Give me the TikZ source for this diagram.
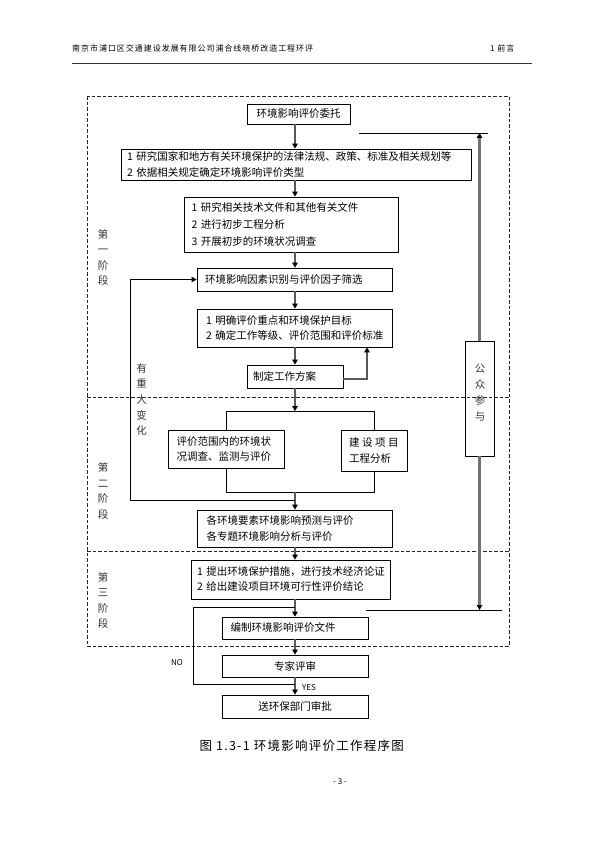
\documentclass[tikz,border=0pt]{standalone}
\usepackage{fontspec}
\setmainfont{Noto Sans CJK SC}
\newfontfamily\capfont[LetterSpace=10]{Noto Sans CJK SC}
\newfontfamily\hdfont[LetterSpace=12]{Noto Sans CJK SC}
\usetikzlibrary{arrows.meta}
\tikzset{
  frame/.style={dash pattern=on 3.5pt off 2pt, line width=0.7pt, draw=black!85},
  box/.style={draw, line width=0.8pt, inner ysep=0pt, align=left,
    font=\fontsize{10.5}{15.5}\selectfont},
  cbox/.style={box, align=center},
  vlab/.style={align=center, inner sep=0pt, text=black!80,
    font=\fontsize{10.5}{15.6}\selectfont},
  flow/.style={draw=black!65, line width=1.8pt,
    -{Triangle[length=5pt,width=5.5pt,color=black]}},
  pflow/.style={draw=black!55, line width=2.2pt,
    -{Triangle[length=5pt,width=5.5pt,color=black]}},
  thinline/.style={draw=black, line width=0.8pt},
  thinarrow/.style={thinline, -{Triangle[length=5pt,width=5.5pt]}},
  small/.style={font=\fontsize{8}{10}\selectfont, inner sep=0pt}
}
\begin{document}
\begin{tikzpicture}[x=1pt,y=-1pt]
\useasboundingbox (0,0) rectangle (595,841);

% header
\node[anchor=west, inner sep=0pt, font=\hdfont\fontsize{8}{10}\selectfont] (hd) at (72,48) {南京市浦口区交通建设发展有限公司浦合线晓桥改造工程环评};
\node[anchor=west, inner sep=0pt, font=\hdfont\fontsize{8}{10}\selectfont] (hdr) at (490,48) {1 前言};
\draw[line width=0.8pt, black!80] (72,63) -- (532,63);

% dashed frame
\draw[frame] (87,96) rectangle (509,646);
\draw[frame] (87,397) -- (509,397);
\draw[frame] (87,551) -- (509,551);

% axis
\coordinate (ax) at (295,0);

% boxes
\node[cbox, minimum width=103pt, minimum height=20pt, text width=95pt, inner xsep=4pt] (b1) at (298.5,114) {环境影响评价委托};
\node[box, minimum width=350pt, minimum height=31pt, text width=338pt, inner xsep=6pt, font=\fontsize{10.5}{16}\selectfont] (b2) at (296,164.5)
  {1~研究国家和地方有关环境保护的法律法规、政策、标准及相关规划等\\2~依据相关规定确定环境影响评价类型};
\node[box, minimum width=214pt, minimum height=55pt, text width=199pt, inner xsep=7.5pt, font=\fontsize{10.5}{16.7}\selectfont] (b3) at (291,224.5)
  {1~研究相关技术文件和其他有关文件\\2~进行初步工程分析\\3~开展初步的环境状况调查};
\node[box, minimum width=195pt, minimum height=23pt, text width=179pt, inner xsep=8pt] (b4) at (294.5,279.5) {环境影响因素识别与评价因子筛选};
\node[box, minimum width=195pt, minimum height=38pt, text width=177pt, inner xsep=9pt] (b5) at (294.5,328)
  {1~明确评价重点和环境保护目标\\2~确定工作等级、评价范围和评价标准};
\node[box, minimum width=96pt, minimum height=23pt, text width=84pt, inner xsep=6pt] (b6) at (295,376.5) {制定工作方案};
\node[box, minimum width=116pt, minimum height=38pt, text width=99pt, inner xsep=8.5pt, font=\fontsize{10.5}{15}\selectfont] (sl) at (226,449)
  {评价范围内的环境状\\况调查、监测与评价};
\node[box, minimum width=66pt, minimum height=41pt, text width=50pt, inner xsep=8pt] (sr) at (374,450.5)
  {建\hspace{2.5pt}设\hspace{2.5pt}项\hspace{2.5pt}目\\工程分析};
\node[box, minimum width=195pt, minimum height=37pt, text width=176pt, inner xsep=9.5pt] (b7) at (294.5,528.5)
  {各环境要素环境影响预测与评价\\各专题环境影响分析与评价};
\node[box, minimum width=199pt, minimum height=39pt, text width=187pt, inner xsep=6pt, font=\fontsize{10.5}{15}\selectfont] (b8) at (290.5,579.5)
  {1~提出环境保护措施，进行技术经济论证\\2~给出建设项目环境可行性评价结论};
\node[box, minimum width=146pt, minimum height=22pt, text width=129pt, inner xsep=8.5pt] (b9) at (295,628) {编制环境影响评价文件};
\node[cbox, minimum width=146pt, minimum height=22pt, text width=130pt, inner xsep=8pt] (b10) at (295,666) {专家评审};
\node[cbox, minimum width=146pt, minimum height=23pt, text width=130pt, inner xsep=8pt] (b11) at (295,706.5) {送环保部门审批};
\node[draw, line width=0.8pt, minimum width=29pt, minimum height=115pt, inner sep=0pt] (pp) at (479.5,398.5) {};
\node[vlab, font=\fontsize{10.5}{16.2}\selectfont] (ppt) at (480,392.5) {公\\众\\参\\与};

% stage labels
\node[vlab] (s1) at (103,257.5) {第\\一\\阶\\段};
\node[vlab] (s2) at (103,491) {第\\二\\阶\\段};
\node[vlab] (s3) at (103,600.5) {第\\三\\阶\\段};
\node[vlab] (chg) at (141.7,399.5) {有\\重\\大\\变\\化};

% main flow
\draw[flow] (b1.south -| ax) -- (b2.north -| ax);
\draw[flow] (b2.south -| ax) -- (b3.north -| ax);
\draw[flow] (b3.south -| ax) -- (b4.north -| ax);
\draw[flow] (b4.south -| ax) -- (b5.north -| ax);
\draw[flow] (b5.south -| ax) -- (b6.north -| ax);
\coordinate (rb) at (367,379);
\draw[flow] (b6.east |- rb) -- (rb) -- (rb |- b5.south);

% split and merge
\coordinate (spl) at (0,411);
\coordinate (mg) at (0,492);
\draw[flow] (b6.south -| ax) -- (ax |- spl);
\draw[thinline] (sl.north) -- (sl.north |- spl) -- (sr.north |- spl) -- (sr.north);
\draw[thinline] (sl.south) -- (sl.south |- mg) -- (sr.south |- mg) -- (sr.south);
\draw[flow] (ax |- mg) -- (b7.north -| ax);

% major change loop
\coordinate (lp) at (130,500);
\draw[thinarrow] (ax |- lp) -- (lp) -- (lp |- b4.west) -- (b4.west);

\draw[flow] (b7.south -| ax) -- (b8.north -| ax);
\draw[flow] (b8.south -| ax) -- (b9.north -| ax);
\draw[flow] (b9.south -| ax) -- (b10.north -| ax);
\draw[flow] (b10.south -| ax) -- (b11.north -| ax);

% NO loop
\coordinate (nt) at (193,607);
\coordinate (nb) at (193,684);
\draw[thinline] (ax |- nb) -- (nb) -- (nt) -- (ax |- nt);
\node[small] (no) at (177,663) {NO};
\node[small, anchor=west] (yes) at (302,688) {YES};

% public participation
\coordinate (tl) at (359,133);
\coordinate (tr) at (488,133);
\draw[thinline] (tl) -- (tr);
\draw[pflow] (pp.north) -- (pp.north |- tl);
\coordinate (bl) at (366,610);
\coordinate (br) at (502,610);
\draw[thinline] (bl) -- (br);
\draw[pflow] (pp.south) -- (pp.south |- bl);

% caption and page number
\node[inner sep=0pt, font=\capfont\fontsize{12.5}{14}\selectfont] (cap) at (301.7,746) {图 1.3-1 环境影响评价工作程序图};
\node[small] (pg) at (340,782) {- 3 -};
\end{tikzpicture}
\end{document}
